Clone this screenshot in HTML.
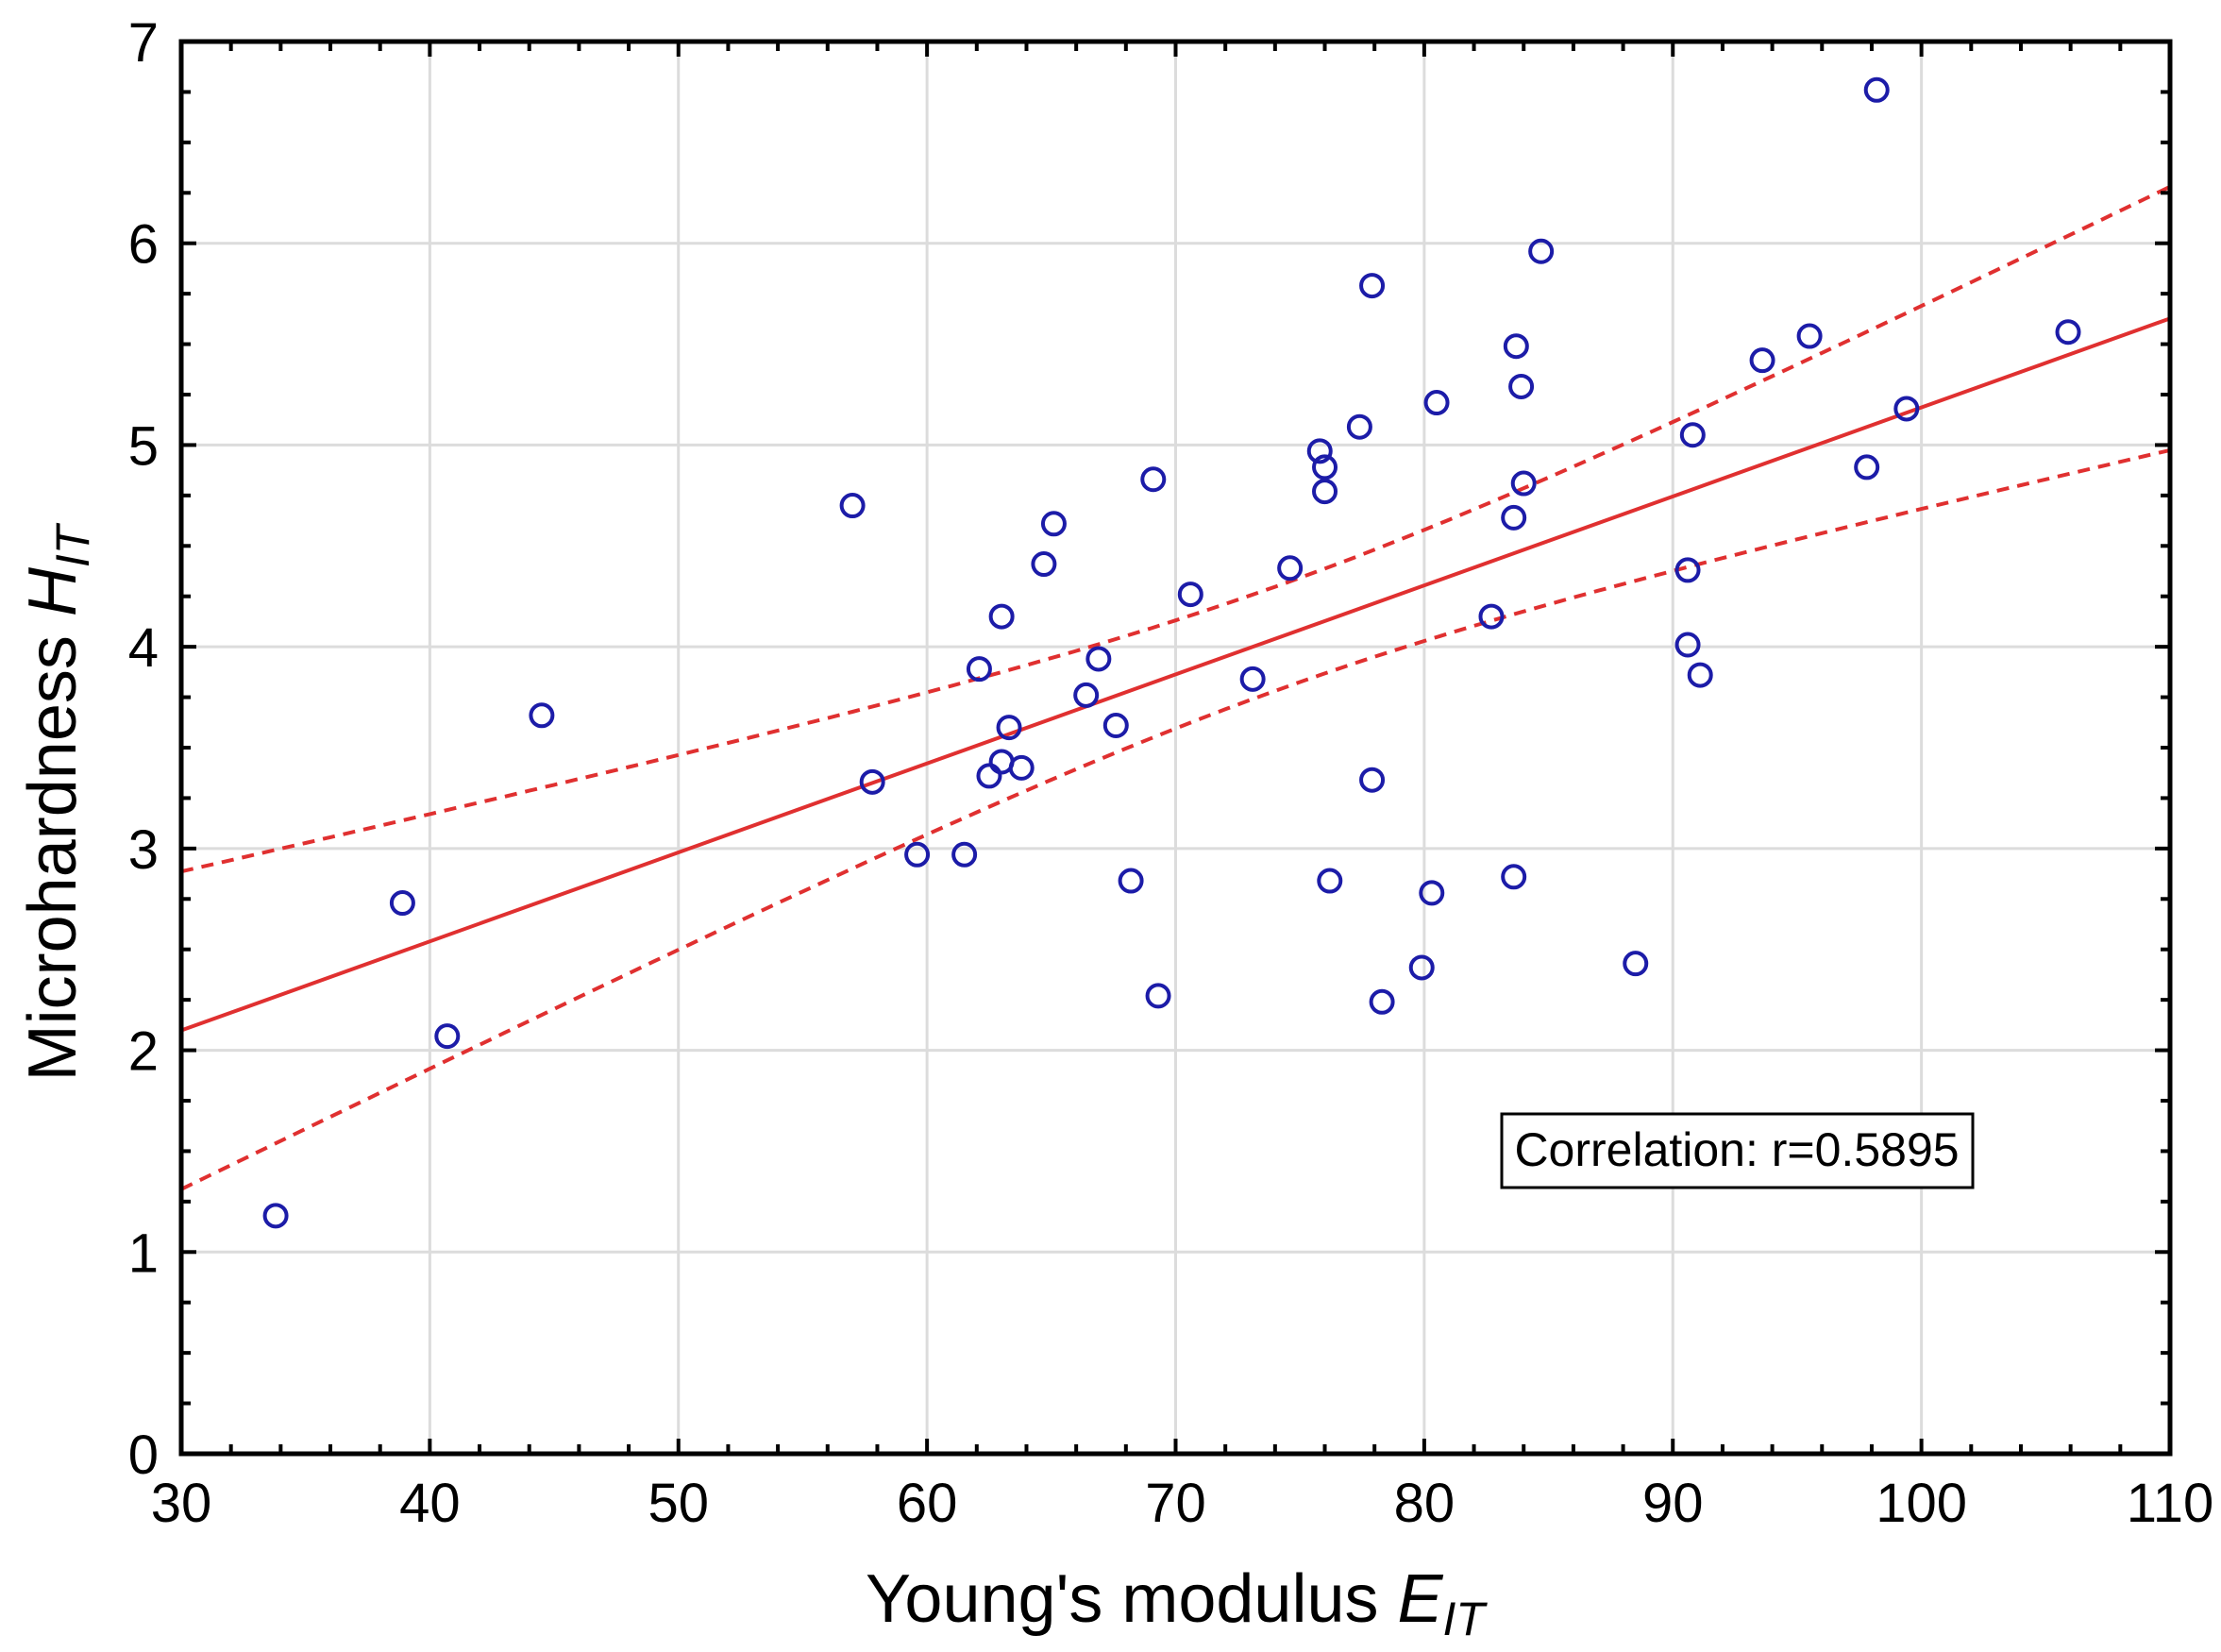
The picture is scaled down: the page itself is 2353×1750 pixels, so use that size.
<!DOCTYPE html>
<html><head><meta charset="utf-8"><style>
html,body{margin:0;padding:0;background:#fff}
svg{display:block}
text{font-family:"Liberation Sans",Arial,sans-serif}
</style></head><body>
<svg id="chart" width="2353" height="1750" viewBox="0 0 2353 1750" xmlns="http://www.w3.org/2000/svg">
<g id="grid"></g>
<g id="bands"></g>
<g id="points"></g>
<g id="axes"></g>
<text x="1245" y="1718" font-size="72" text-anchor="middle">Young's modulus <tspan font-style="italic">E</tspan><tspan font-style="italic" font-size="50" dy="14">IT</tspan></text>
<text transform="translate(80,851) rotate(-90)" font-size="72" text-anchor="middle">Microhardness <tspan font-style="italic">H</tspan><tspan font-style="italic" font-size="50" dy="14">IT</tspan></text>
<g>
<rect x="1591" y="1180" width="499" height="78" fill="#fff" stroke="#000" stroke-width="3"/>
<text x="1840" y="1235" font-size="50" text-anchor="middle">Correlation: r=0.5895</text>
</g>
</svg>
<script>
const xVals=[33.8,38.9,40.7,44.5,57,57.8,59.6,61.5,62.1,62.5,63,63,63.3,63.8,64.7,65.1,66.4,66.9,67.6,68.2,69.1,69.3,70.6,73.1,74.6,75.8,76,76,76.2,77.4,77.9,77.9,78.3,79.9,80.3,80.5,82.7,83.6,83.6,83.7,83.9,84,84.7,88.5,90.6,90.6,90.8,91.1,93.6,95.5,97.8,98.2,99.4,105.9];
const yVals=[1.18,2.73,2.07,3.66,4.7,3.33,2.97,2.97,3.89,3.36,4.15,3.43,3.6,3.4,4.41,4.61,3.76,3.94,3.61,2.84,4.83,2.27,4.26,3.84,4.39,4.97,4.89,4.77,2.84,5.09,5.79,3.34,2.24,2.41,2.78,5.21,4.15,4.64,2.86,5.49,5.29,4.81,5.96,2.43,4.38,4.01,5.05,3.86,5.42,5.54,4.89,6.76,5.18,5.56];
const xTicks=[30,40,50,60,70,80,90,100,110];
const yTicks=[0,1,2,3,4,5,6,7];
const NS="http://www.w3.org/2000/svg";
const L=192,R=2299,T=44,B=1540;
const sx=v=>L+(v-30)/80*(R-L);
const sy=v=>B-(v-0)/7*(B-T);
function mk(tag,attrs,parent){const e=document.createElementNS(NS,tag);for(const k in attrs)e.setAttribute(k,attrs[k]);parent.appendChild(e);return e;}
const grid=document.getElementById('grid'),axes=document.getElementById('axes'),pts=document.getElementById('points'),bands=document.getElementById('bands');
xTicks.forEach(t=>{
  const g=mk('line',{x1:sx(t),x2:sx(t),y1:T,y2:B,stroke:'#dcdcdc','stroke-width':3},grid);
  
  
  const lb=mk('text',{x:sx(t),y:B+72,'font-size':58,'text-anchor':'middle'},axes);
  lb.textContent=t;
  
  
});
yTicks.forEach(t=>{
  const g=mk('line',{x1:L,x2:R,y1:sy(t),y2:sy(t),stroke:'#dcdcdc','stroke-width':3},grid);
  
  
  const lb=mk('text',{x:L-24,y:sy(t)+21,'font-size':58,'text-anchor':'end'},axes);
  lb.textContent=t;
  
  
});
for(let v=30;v<=110;v+=2){const len=(v%10===0)?16:10;
  mk('line',{x1:sx(v),x2:sx(v),y1:B,y2:B-len,stroke:'#000','stroke-width':4},axes);
  mk('line',{x1:sx(v),x2:sx(v),y1:T,y2:T+len,stroke:'#000','stroke-width':4},axes);}
for(let v=0;v<=7.001;v+=0.25){const len=(Math.abs(v-Math.round(v))<1e-6)?16:10;
  mk('line',{x1:L,x2:L+len,y1:sy(v),y2:sy(v),stroke:'#000','stroke-width':4},axes);
  mk('line',{x1:R,x2:R-len,y1:sy(v),y2:sy(v),stroke:'#000','stroke-width':4},axes);}
const fr=mk('rect',{x:L,y:T,width:R-L,height:B-T,fill:'none',stroke:'#000','stroke-width':5},axes);


const n=xVals.length;const mx=xVals.reduce((a,b)=>a+b)/n,my=yVals.reduce((a,b)=>a+b)/n;
let sxx=0,sxy=0;for(let i=0;i<n;i++){sxx+=(xVals[i]-mx)**2;sxy+=(xVals[i]-mx)*(yVals[i]-my);}
const b=sxy/sxx,a=my-b*mx;let sse=0;for(let i=0;i<n;i++)sse+=(yVals[i]-a-b*xVals[i])**2;
const s=Math.sqrt(sse/(n-2)),tq=2.007;
const fit=mk('line',{x1:sx(30),y1:sy(a+b*30),x2:sx(110),y2:sy(a+b*110),stroke:'#e03030','stroke-width':4},bands);


[1,-1].forEach(sg=>{let d='';for(let x=30;x<=110.001;x+=1){const h=tq*s*Math.sqrt(1/n+(x-mx)**2/sxx);d+=(x===30?'M':'L')+sx(x).toFixed(1)+','+sy(a+b*x+sg*h).toFixed(1);}
  const p=mk('path',{d:d,fill:'none',stroke:'#e03030','stroke-width':4,'stroke-dasharray':'13,9'},bands);
  
  });
for(let i=0;i<n;i++){const c=mk('circle',{cx:sx(xVals[i]),cy:sy(yVals[i]),r:11.5,fill:'none',stroke:'#1c1ca8','stroke-width':4},pts);
  
  }
</script>
</body></html>
